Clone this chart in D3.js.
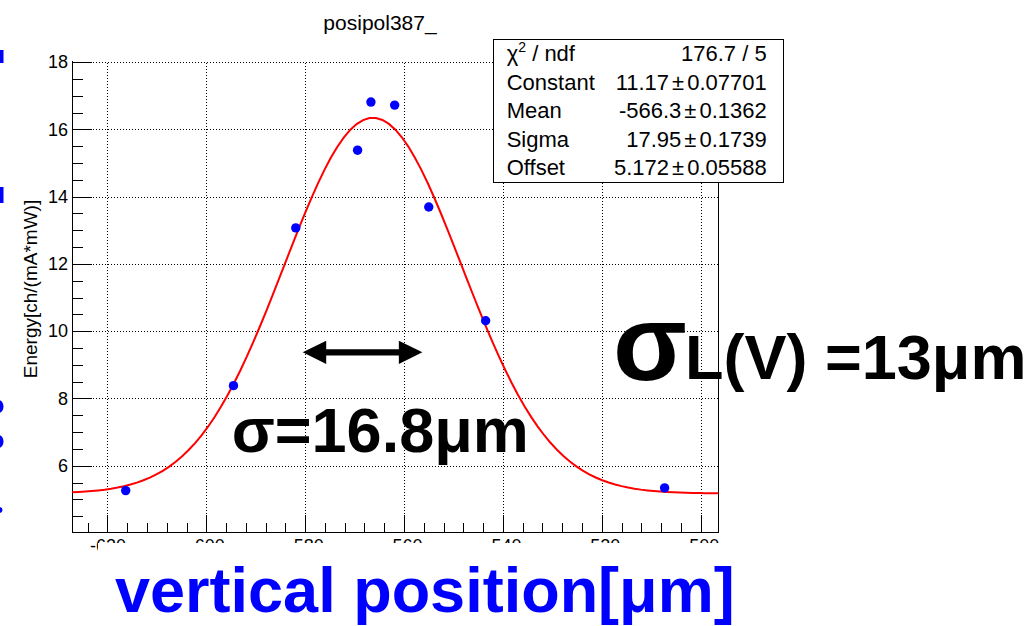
<!DOCTYPE html>
<html>
<head>
<meta charset="utf-8">
<script src="https://cdn.jsdelivr.net/npm/d3@7"></script>
<style>
  html, body { margin: 0; padding: 0; background: #fff; }
  svg { display: block; font-family: "Liberation Sans", Arial, sans-serif; }
</style>
</head>
<body>
<svg id="chart" width="1032" height="626"></svg>
<script>
// Scan positions (µm) and measured energy per current and laser power
const positionUm = [-616.3, -594.5, -581.9, -569.4, -566.7, -561.9, -555.0, -543.5, -507.3];
const energy     = [5.26, 8.38, 13.07, 15.38, 16.81, 16.72, 13.69, 10.31, 5.34];

// Gaussian-plus-offset fit result
const fitNames  = ["Constant", "Mean", "Sigma", "Offset"];
const fitValues = [11.17, -566.3, 17.95, 5.172];
const fitErrors = ["0.07701", "0.1362", "0.1739", "0.05588"];
const fitValueText = ["11.17", "-566.3", "17.95", "5.172"];
const chi2Text = "176.7 / 5";

// Axis ticks
const xTicks = [-620, -600, -580, -560, -540, -520, -500];
const yTicks = [6, 8, 10, 12, 14, 16, 18];

// Annotation: width arrow and its label
const arrowSpan = [-580.5, -556.3];
const arrowLevel = 9.37;

const svg = d3.select("#chart");

const x = d3.scaleLinear().domain([-627.1, -496.4]).range([72.3, 718.5]);
const y = d3.scaleLinear().domain([4.02, 18.04]).range([532.3, 60.7]);

const FONT = "'Liberation Sans', Arial, sans-serif";

// Blue marks along the left margin
const edge = svg.append("g").attr("fill", "#0000ff");
[[50, 63], [187, 203]].forEach(([a, b]) =>
  edge.append("rect").attr("x", 0).attr("y", a).attr("width", 3.5).attr("height", b - a));
[[406.5, 6.5, 4.5], [441.5, 6.5, 4.5], [510, 3, 3.5]].forEach(([cy, ry, rx]) =>
  edge.append("ellipse").attr("cx", -1).attr("cy", cy).attr("rx", rx).attr("ry", ry));

// Title
svg.append("text")
  .attr("x", 380).attr("y", 30)
  .attr("text-anchor", "middle")
  .attr("font-size", 21)
  .text("posipol387_");

// Dotted grid
const grid = svg.append("g")
  .attr("stroke", "#000").attr("stroke-width", 1)
  .attr("stroke-dasharray", "1,2").attr("shape-rendering", "crispEdges");
grid.selectAll("line.gx").data(xTicks).join("line")
  .attr("x1", d => Math.round(x(d)) + 0.5).attr("x2", d => Math.round(x(d)) + 0.5)
  .attr("y1", y.range()[0]).attr("y2", y.range()[1]);
grid.selectAll("line.gy").data(yTicks).join("line")
  .attr("y1", d => Math.round(y(d)) + 0.5).attr("y2", d => Math.round(y(d)) + 0.5)
  .attr("x1", x.range()[0]).attr("x2", x.range()[1]);

// Right edge of frame
svg.append("line")
  .attr("x1", x.range()[1]).attr("x2", x.range()[1])
  .attr("y1", y.range()[1]).attr("y2", y.range()[0])
  .attr("stroke", "#000").attr("shape-rendering", "crispEdges");

// X axis with inward ticks
const xMinor = d3.range(-624, -496, 4).filter(v => v % 20 !== 0);
const xAxisG = svg.append("g").attr("transform", `translate(0,${y.range()[0]})`);
xAxisG.append("g")
  .call(d3.axisBottom(x).tickValues(xMinor).tickSize(-9.3).tickSizeOuter(0).tickFormat(""))
  .call(g => g.select(".domain").remove());
xAxisG.append("g")
  .call(d3.axisBottom(x).tickValues(xTicks).tickSize(-17.7).tickSizeOuter(0)
    .tickPadding(7).tickFormat(d => String(d)));
xAxisG.selectAll("text").attr("font-size", 18).attr("font-family", FONT).attr("fill", "#000");

// Y axis with inward ticks
const yMinor = d3.range(4.5, 18, 0.5).filter(v => v % 2 !== 0);
const yAxisG = svg.append("g").attr("transform", `translate(${x.range()[0]},0)`);
yAxisG.append("g")
  .call(d3.axisLeft(y).tickValues(yMinor).tickSize(-11).tickSizeOuter(0).tickFormat(""))
  .call(g => g.select(".domain").remove());
yAxisG.append("g")
  .call(d3.axisLeft(y).tickValues(yTicks).tickSize(-20).tickSizeOuter(0)
    .tickPadding(4.3).tickFormat(d => String(d)));
yAxisG.selectAll("text").attr("font-size", 18).attr("font-family", FONT).attr("fill", "#000");
svg.selectAll(".tick line, .domain").attr("stroke", "#000").attr("shape-rendering", "crispEdges");

// Y axis title
svg.append("text")
  .attr("transform", "translate(37,289) rotate(-90)")
  .attr("text-anchor", "middle")
  .attr("font-size", 19)
  .text("Energy[ch/(mA*mW)]");

// Fit curve: Offset + Constant * exp(-0.5 * ((x - Mean) / Sigma)^2)
const [cst, mean, sigma, offset] = fitValues;
const fitFn = v => offset + cst * Math.exp(-0.5 * Math.pow((v - mean) / sigma, 2));
const nPx = 100;
const xs = d3.range(nPx + 1).map(i => x.domain()[0] + (x.domain()[1] - x.domain()[0]) * i / nPx);
svg.append("path")
  .datum(xs)
  .attr("fill", "none")
  .attr("stroke", "#ff0000")
  .attr("stroke-width", 2)
  .attr("d", d3.line().x(d => x(d)).y(d => y(fitFn(d))));

// Measured points
svg.append("g").attr("fill", "#0000ff")
  .selectAll("circle").data(positionUm).join("circle")
  .attr("cx", d => x(d))
  .attr("cy", (d, i) => y(energy[i]))
  .attr("r", 4.7);

// Statistics box
const box = { x: 493.3, y: 39.3, w: 290, h: 142.4 };
svg.append("rect")
  .attr("x", box.x + 0.5).attr("y", box.y + 0.5)
  .attr("width", box.w).attr("height", box.h)
  .attr("fill", "#fff").attr("stroke", "#000").attr("shape-rendering", "crispEdges");
const rowH = box.h / 5;
const statFont = 22;
const rowBase = i => box.y + rowH * (i + 0.5) + 0.36 * statFont;
const statG = svg.append("g").attr("font-size", statFont);
const chiLabel = statG.append("text").attr("x", 506.7).attr("y", rowBase(0));
chiLabel.append("tspan").text("χ");
chiLabel.append("tspan").attr("font-size", 14).attr("dy", -9).text("2");
chiLabel.append("tspan").attr("dy", 9).text(" / ndf");
statG.append("text").attr("x", 766.7).attr("y", rowBase(0)).attr("text-anchor", "end").text(chi2Text);
fitNames.forEach((name, i) => {
  statG.append("text").attr("x", 506.7).attr("y", rowBase(i + 1)).text(name);
  const t = statG.append("text").attr("x", 766.7).attr("y", rowBase(i + 1)).attr("text-anchor", "end");
  t.append("tspan").text(fitValueText[i]);
  t.append("tspan").attr("dx", 3).text("±");
  t.append("tspan").attr("dx", 3).text(fitErrors[i]);
});

// Double-headed arrow
const ax0 = x(arrowSpan[0]), ax1 = x(arrowSpan[1]), ay = y(arrowLevel);
const headL = 23.5, headH = 11.7, shaftH = 3.2;
svg.append("path")
  .attr("fill", "#000")
  .attr("d", [
    `M${ax0},${ay}`,
    `L${ax0 + headL},${ay - headH}`,
    `L${ax0 + headL},${ay - shaftH}`,
    `L${ax1 - headL},${ay - shaftH}`,
    `L${ax1 - headL},${ay - headH}`,
    `L${ax1},${ay}`,
    `L${ax1 - headL},${ay + headH}`,
    `L${ax1 - headL},${ay + shaftH}`,
    `L${ax0 + headL},${ay + shaftH}`,
    `L${ax0 + headL},${ay + headH}`, "Z"].join(""));

// Width annotations
svg.append("text")
  .attr("x", 231.7).attr("y", 451.7)
  .attr("font-size", 63).attr("font-weight", "bold")
  .text("σ=16.8μm");
svg.append("text")
  .attr("x", 613).attr("y", 380)
  .attr("font-size", 108).attr("font-weight", "bold")
  .text("σ");
svg.append("text")
  .attr("x", 685).attr("y", 378.5)
  .attr("font-size", 63).attr("font-weight", "bold")
  .text("L(V) =13μm");

// Lower title area
svg.append("rect")
  .attr("x", 98).attr("y", 543).attr("width", 934).attr("height", 83)
  .attr("fill", "#fff");
svg.append("text")
  .attr("x", 115).attr("y", 612)
  .attr("font-size", 63).attr("font-weight", "bold")
  .attr("fill", "#0000ff")
  .text("vertical position[μm]");
</script>
</body>
</html>
